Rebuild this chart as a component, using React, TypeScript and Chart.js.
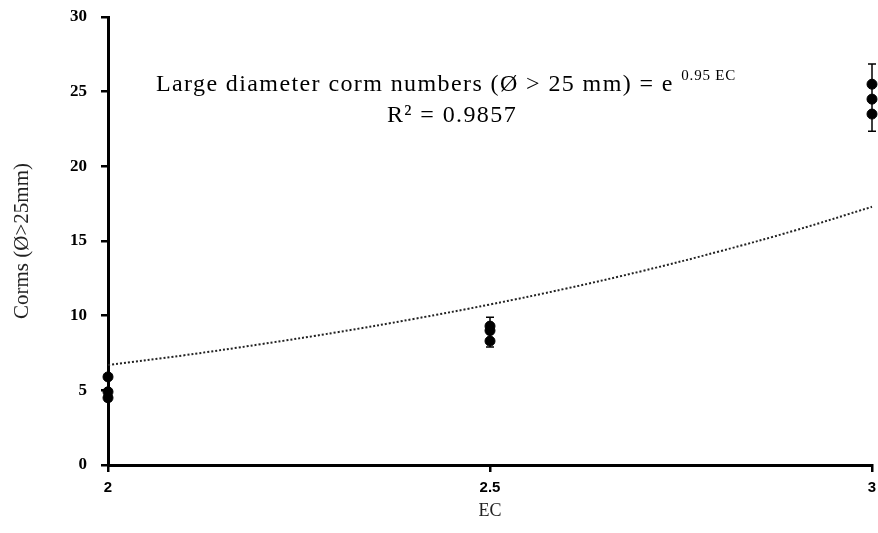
import React, { useEffect, useRef } from "react";
import { Chart, registerables } from "chart.js";

Chart.register(...registerables);

// ---- data ----
const ecLevels = [2, 2.5, 3];
const replicate1 = [5.9, 9.3, 25.5];
const replicate2 = [4.9, 9.0, 24.5];
const replicate3 = [4.5, 8.3, 23.5];
const meanValues = [5.1, 8.9, 24.6];
const errorValues = [0.8, 1.0, 2.25];
const trendX = [2, 2.1, 2.2, 2.3, 2.4, 2.5, 2.6, 2.7, 2.8, 2.9, 3];
const trendY = [6.69, 7.35, 8.09, 8.89, 9.78, 10.75, 11.82, 13.0, 14.3, 15.72, 17.29];
const xTickValues = [2, 2.5, 3];
const yTickValues = [0, 5, 10, 15, 20, 25, 30];
const equationMain = "Large diameter corm numbers (Ø > 25 mm) = e";
const equationExponent = "0.95 EC";
const rSquaredText = "R² = 0.9857";
const xTitle = "EC";
const yTitle = "Corms (Ø>25mm)";

const SERIF = "'Liberation Serif', 'Times New Roman', serif";
const SANS = "'Liberation Sans', Arial, sans-serif";

const errorBarPlugin = {
  id: "errorBars",
  beforeDatasetsDraw(chart: any) {
    const { ctx, scales } = chart;
    const xs = scales.x;
    const ys = scales.y;
    ctx.save();
    ctx.strokeStyle = "#000";
    ctx.lineWidth = 1.5;
    ecLevels.forEach((ec, i) => {
      const px = xs.getPixelForValue(ec);
      const top = ys.getPixelForValue(meanValues[i] + errorValues[i]);
      const bot = ys.getPixelForValue(meanValues[i] - errorValues[i]);
      const cap = 4;
      ctx.beginPath();
      ctx.moveTo(px, top);
      ctx.lineTo(px, bot);
      ctx.moveTo(px - cap, top);
      ctx.lineTo(px + cap, top);
      ctx.moveTo(px - cap, bot);
      ctx.lineTo(px + cap, bot);
      ctx.stroke();
    });
    ctx.restore();
  },
};

const annotationPlugin = {
  id: "equationText",
  afterDraw(chart: any) {
    const { ctx } = chart;
    ctx.save();
    ctx.fillStyle = "#000";
    ctx.textBaseline = "alphabetic";
    const mainFont = `24px ${SERIF}`;
    const supFont = `15px ${SERIF}`;
    ctx.letterSpacing = "1.4px";
    ctx.font = mainFont;
    const wMain = ctx.measureText(equationMain + " ").width;
    ctx.font = supFont;
    ctx.letterSpacing = "0.8px";
    const wSup = ctx.measureText(equationExponent).width;
    const total = wMain + wSup;
    const cx = 446;
    const start = cx - total / 2;
    ctx.textAlign = "left";
    ctx.letterSpacing = "1.4px";
    ctx.font = mainFont;
    ctx.fillText(equationMain, start, 91);
    ctx.letterSpacing = "0.8px";
    ctx.font = supFont;
    ctx.fillText(equationExponent, start + wMain, 80);
    ctx.letterSpacing = "1.4px";
    ctx.font = mainFont;
    ctx.textAlign = "center";
    ctx.fillText(rSquaredText, 452, 122);
    ctx.restore();
  },
};

const pointStyle = {
  type: "scatter" as const,
  showLine: false,
  pointRadius: 5,
  pointHoverRadius: 5,
  pointBackgroundColor: "#000",
  pointBorderColor: "#000",
  borderColor: "#000",
  clip: false as any,
};

export default function App() {
  const canvasRef = useRef<HTMLCanvasElement | null>(null);

  useEffect(() => {
    document.body.style.margin = "0";
    const canvas = canvasRef.current;
    if (!canvas) return;
    const chart = new Chart(canvas, {
      type: "scatter",
      data: {
        datasets: [
          {
            ...pointStyle,
            label: "Trend",
            data: trendX.map((x, i) => ({ x, y: trendY[i] })),
            showLine: true,
            pointRadius: 0,
            pointHoverRadius: 0,
            borderWidth: 2,
            borderDash: [2, 2],
            borderColor: "#222",
            tension: 0.4,
            order: 2,
          } as any,
          {
            ...pointStyle,
            label: "Rep 1",
            data: ecLevels.map((x, i) => ({ x, y: replicate1[i] })),
            order: 1,
          },
          {
            ...pointStyle,
            label: "Rep 2",
            data: ecLevels.map((x, i) => ({ x, y: replicate2[i] })),
            order: 1,
          },
          {
            ...pointStyle,
            label: "Rep 3",
            data: ecLevels.map((x, i) => ({ x, y: replicate3[i] })),
            order: 1,
          },
        ],
      },
      options: {
        animation: false,
        responsive: true,
        maintainAspectRatio: false,
        layout: { padding: { top: 17, right: 6, left: 0, bottom: 0 } },
        plugins: {
          legend: { display: false },
          tooltip: { enabled: false },
        },
        scales: {
          x: {
            type: "linear",
            min: 2,
            max: 3,
            afterBuildTicks(scale: any) {
              scale.ticks = xTickValues.map((v) => ({ value: v }));
            },
            afterFit(scale: any) {
              scale.height = 68;
              scale.paddingLeft = 0;
              scale.paddingRight = 0;
            },
            grid: {
              drawOnChartArea: false,
              drawTicks: true,
              tickLength: 7,
              color: "#000",
              lineWidth: 2.5,
            },
            border: { display: true, color: "#000", width: 3 },
            ticks: {
              color: "#000",
              padding: 7,
              font: { family: SANS, size: 15, weight: "bold" },
              callback: (v: any) => String(v),
            },
            title: {
              display: true,
              text: xTitle,
              color: "#222",
              font: { family: SERIF, size: 18 },
              padding: { top: 0, bottom: 11 },
            },
          },
          y: {
            type: "linear",
            min: 0,
            max: 30,
            afterBuildTicks(scale: any) {
              scale.ticks = yTickValues.map((v) => ({ value: v }));
            },
            afterFit(scale: any) {
              scale.width = 108;
              scale.paddingTop = 0;
              scale.paddingBottom = 0;
            },
            grid: {
              drawOnChartArea: false,
              drawTicks: true,
              tickLength: 7,
              color: "#000",
              lineWidth: 2.5,
            },
            border: { display: true, color: "#000", width: 3 },
            ticks: {
              color: "#000",
              padding: 14,
              font: { family: SERIF, size: 17, weight: "bold" },
            },
            title: {
              display: true,
              text: yTitle,
              color: "#222",
              font: { family: SERIF, size: 21 },
              padding: { top: 10, bottom: 0 },
            },
          },
        },
      },
      plugins: [errorBarPlugin, annotationPlugin],
    });
    return () => chart.destroy();
  }, []);

  return (
    <div style={{ position: "relative", width: 878, height: 533 }}>
      <canvas ref={canvasRef} />
    </div>
  );
}
